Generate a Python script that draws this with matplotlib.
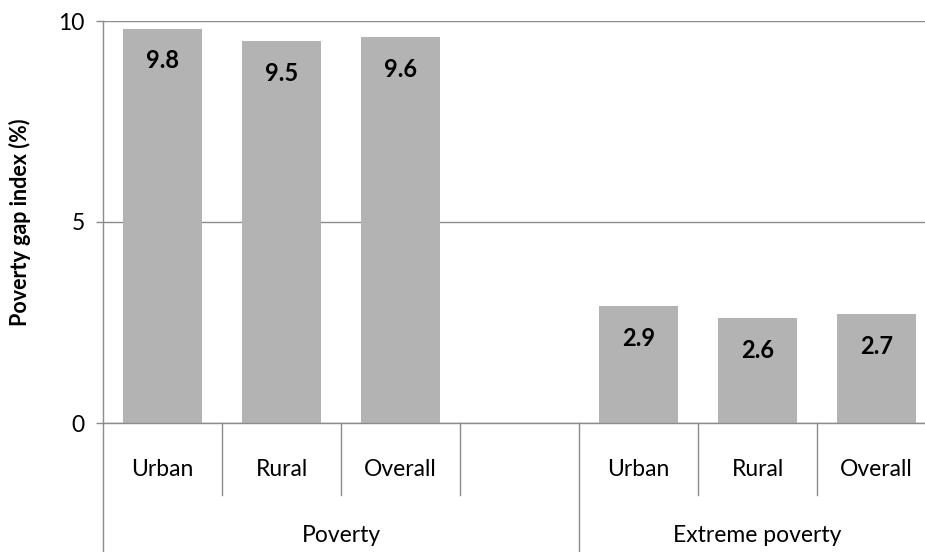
import matplotlib
import matplotlib.pyplot as plt
import matplotlib.transforms as mtransforms

matplotlib.use('Agg')

# poverty gap index by area, blank slot between the two groups
categories = ["Urban", "Rural", "Overall", "", "Urban", "Rural", "Overall"]
values = [9.8, 9.5, 9.6, None, 2.9, 2.6, 2.7]
groups = ["Poverty", "Extreme poverty"]
group_spans = [(0, 3), (4, 6)]   # first/last slot index of each group
y_ticks = [0, 5, 10]

bar_color = "#b3b3b3"
line_color = "#8c8c8c"

plt.rcParams['font.family'] = ['Lato', 'DejaVu Sans']

fig = plt.figure(figsize=(9.25, 5.52), dpi=100)
ax = fig.add_axes([103 / 925, 129 / 552, 833 / 925, 402 / 552])

xs = [i for i, v in enumerate(values) if v is not None]
ys = [v for v in values if v is not None]
ax.bar(xs, ys, width=0.66, color=bar_color, zorder=2)

for x, y in zip(xs, ys):
    ax.annotate("{:.1f}".format(y), (x, y), xytext=(0, -23), textcoords="offset points",
                ha="center", va="center", fontsize=17, fontweight="bold", color="black")

ax.set_xlim(-0.5, len(categories) - 0.5)
ax.set_ylim(0, 10)
ax.set_yticks(y_ticks)
ax.tick_params(axis='y', length=5, width=1, color=line_color, labelsize=16.5, pad=8)
ax.set_xticks([])
ax.yaxis.grid(True, color=line_color, linewidth=1, zorder=0)
ax.set_axisbelow(True)

for side in ["top", "right"]:
    ax.spines[side].set_visible(False)
for side in ["left", "bottom"]:
    ax.spines[side].set_color(line_color)
    ax.spines[side].set_linewidth(1)

ax.set_ylabel("Poverty gap index (%)", fontsize=15.5, fontweight="bold", labelpad=20)

# two-level category axis below the plot
trans = mtransforms.blended_transform_factory(ax.transData, ax.transAxes)
short_y = -72 / 402
long_y = -140 / 402
group_edges = set()
for first, last in group_spans:
    group_edges.add(first - 0.5)
    group_edges.add(last + 0.5)
for k in range(len(categories) + 1):
    x = k - 0.5
    bottom = long_y if x in group_edges else short_y
    ax.plot([x, x], [0, bottom], transform=trans, color=line_color, linewidth=1,
            clip_on=False, zorder=3)

for i, name in enumerate(categories):
    ax.text(i, -46 / 402, name, transform=trans, ha="center", va="center", fontsize=16.5)

for name, (first, last) in zip(groups, group_spans):
    ax.text((first + last) / 2, -113 / 402, name, transform=trans,
            ha="center", va="center", fontsize=16.5)

fig.savefig("out.png", dpi=100)
plt.close(fig)
